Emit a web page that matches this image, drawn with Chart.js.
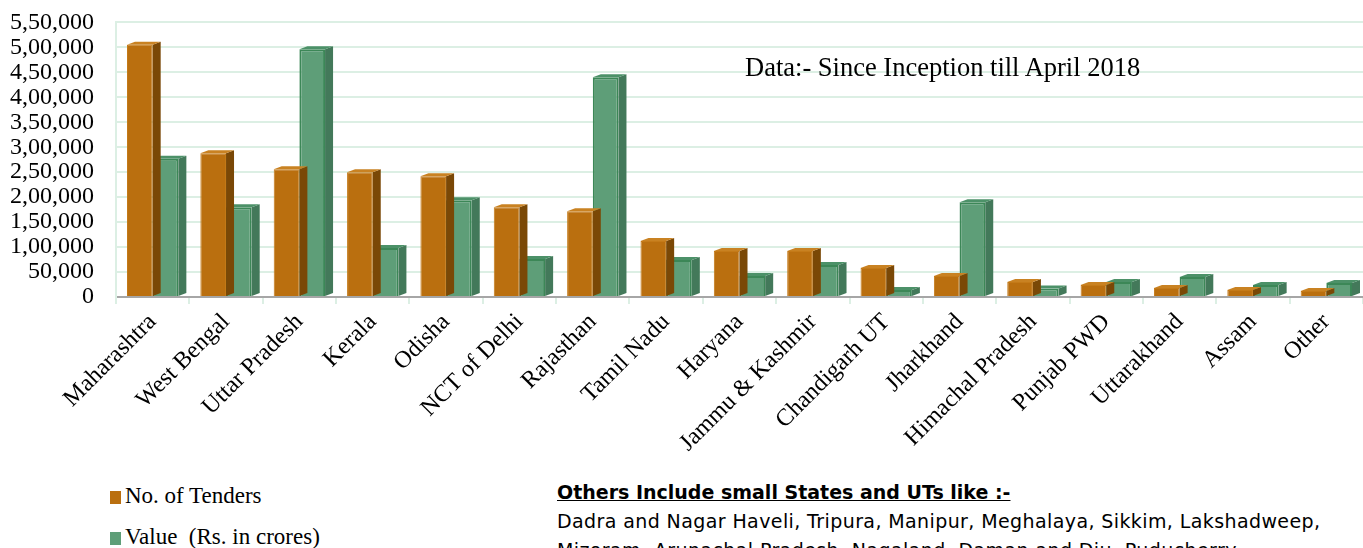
<!DOCTYPE html>
<html>
<head>
<meta charset="utf-8">
<script src="https://cdn.jsdelivr.net/npm/chart.js@4.4.1/dist/chart.umd.min.js"></script>
<style>
  body { margin: 0; background: #fff; }
  #wrap { position: relative; width: 1363px; height: 548px; overflow: hidden; }
  #chart { position: absolute; left: 0; top: -14px; }
  .legend-item { position: absolute; left: 110px; font: 23px "Liberation Serif", "Times New Roman", serif; color: #000; white-space: nowrap; }
  .legend-item i { display: inline-block; width: 11px; height: 13px; margin-right: 4px; vertical-align: -1px; }
  #note { position: absolute; left: 557px; top: 478px; font: 19px "Comic Sans MS", "DejaVu Sans", sans-serif; color: #000; line-height: 29px; white-space: nowrap; }
  #note b { text-decoration: underline; }
  #note span { letter-spacing: 0.4px; }
  #stamp { position: absolute; left: 745px; top: 52px; font: 26.5px "Liberation Serif", "Times New Roman", serif; color: #000; white-space: nowrap; }
</style>
</head>
<body>
<div id="wrap">
  <canvas id="chart" width="1363" height="484"></canvas>
  <div id="stamp">Data:- Since Inception till April 2018</div>
  <div id="legend"></div>
  <div id="note">
    <b>Others Include small States and UTs like :-</b><br>
    <span>Dadra and Nagar Haveli, Tripura, Manipur, Meghalaya, Sikkim, Lakshadweep,</span><br>
    <span>Mizoram, Arunachal Pradesh, Nagaland, Daman and Diu, Puducherry</span>
  </div>
</div>
<script>
const states = [
  "Maharashtra", "West Bengal", "Uttar Pradesh", "Kerala", "Odisha",
  "NCT of Delhi", "Rajasthan", "Tamil Nadu", "Haryana", "Jammu & Kashmir",
  "Chandigarh UT", "Jharkhand", "Himachal Pradesh", "Punjab PWD",
  "Uttarakhand", "Assam", "Other"
];
const tenderCounts = [505000, 288000, 256000, 250000, 242000, 180000, 172000, 112000, 92000, 92000, 58000, 42000, 30000, 24000, 18000, 14000, 12000];
const tenderValues = [277000, 180000, 496000, 98000, 194000, 76000, 440000, 74000, 42000, 64000, 14000, 190000, 17000, 30000, 40000, 24000, 28000];
const seriesNames = ["No. of Tenders", "Value  (Rs. in crores)"];
const yMax = 550000;
const yStep = 50000;

// Indian digit grouping: 5,50,000
function inrFormat(n) {
  var s = String(Math.round(n));
  if (s.length <= 3) return s;
  var last3 = s.slice(-3);
  var rest = s.slice(0, -3).replace(/\B(?=(\d{2})+(?!\d))/g, ",");
  return rest + "," + last3;
}

// darker side face + top cap so the bars look like 3D columns
const sideFaces = {
  id: "sideFaces",
  afterDatasetDraw(chart, args) {
    const ctx = chart.ctx;
    const ds = chart.data.datasets[args.index];
    const depth = 8, rise = 3;
    args.meta.data.forEach(function (bar) {
      const left = bar.x - bar.width / 2;
      const right = bar.x + bar.width / 2;
      const top = bar.y;
      const bottom = bar.base;
      ctx.save();
      ctx.fillStyle = ds.sideColor;
      ctx.beginPath();
      ctx.moveTo(right, top);
      ctx.lineTo(right + depth, top - rise);
      ctx.lineTo(right + depth, bottom - rise);
      ctx.lineTo(right, bottom);
      ctx.closePath();
      ctx.fill();
      ctx.fillStyle = ds.capColor;
      ctx.beginPath();
      ctx.moveTo(left, top);
      ctx.lineTo(left + depth, top - rise);
      ctx.lineTo(right + depth, top - rise);
      ctx.lineTo(right, top);
      ctx.closePath();
      ctx.fill();
      ctx.restore();
    });
  }
};

var ctx = document.getElementById("chart").getContext("2d");
var tenderChart = new Chart(ctx, {
  type: "bar",
  data: {
    labels: states,
    datasets: [
      {
        label: seriesNames[0],
        data: tenderCounts,
        backgroundColor: "#BA6F0F",
        borderColor: "#C47A18",
        borderWidth: 1,
        sideColor: "#7A4806",
        capColor: "#C98222",
      },
      {
        label: seriesNames[1],
        data: tenderValues,
        backgroundColor: "#5E9E78",
        borderColor: "#3C8757",
        borderWidth: 2,
        sideColor: "#43795A",
        capColor: "#4C9168",
      },
    ],
  },
  options: {
    responsive: false,
    animation: false,
    layout: { padding: { top: 11, right: 0, left: 0, bottom: 0 } },
    datasets: { bar: { categoryPercentage: 0.7, barPercentage: 1.0 } },
    plugins: { legend: { display: false }, tooltip: { enabled: false } },
    scales: {
      x: {
        offset: true,
        afterFit: function (scale) { scale.height = 173; },
        grid: { display: true, drawOnChartArea: false, offset: true, color: "#dcefe4", lineWidth: 2, tickLength: 7 },
        border: { display: true, color: "#a6a6a6", width: 2 },
        ticks: {
          autoSkip: false,
          minRotation: 45,
          maxRotation: 45,
          padding: 4,
          color: "#000",
          font: { family: "'Liberation Serif', 'Times New Roman', serif", size: 24 },
        },
      },
      y: {
        min: 0,
        max: yMax,
        afterFit: function (scale) { scale.width = 116; },
        grid: { color: "#dcefe4", lineWidth: 2, drawTicks: false },
        border: { display: true, color: "#dcefe4", width: 2 },
        ticks: {
          autoSkip: false,
          stepSize: yStep,
          padding: 22,
          color: "#000",
          font: { family: "'Liberation Serif', 'Times New Roman', serif", size: 24 },
          callback: function (v) { return inrFormat(v); },
        },
      },
    },
  },
  plugins: [sideFaces],
});

// legend below the chart, built from the datasets
var legendBox = document.getElementById("legend");
tenderChart.data.datasets.forEach(function (ds, i) {
  var item = document.createElement("div");
  item.className = "legend-item";
  item.style.top = (483 + i * 41) + "px";
  item.innerHTML = '<i style="background:' + ds.backgroundColor + '"></i>' + ds.label.replace(/  /g, "&nbsp; ");
  legendBox.appendChild(item);
});
</script>
</body>
</html>
